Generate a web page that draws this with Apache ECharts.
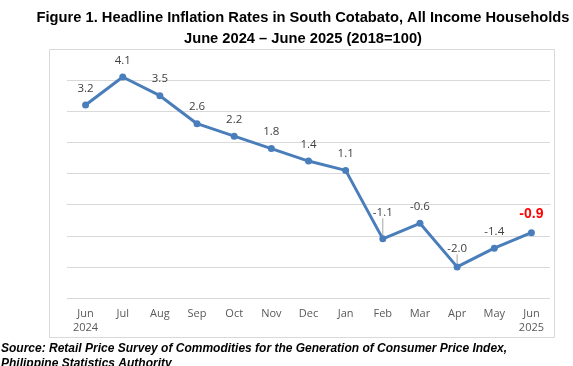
<!DOCTYPE html>
<html><head><meta charset="utf-8">
<script src="https://cdn.jsdelivr.net/npm/echarts@6/dist/echarts.min.js"></script>
<style>html,body{margin:0;padding:0;background:#fff}#c{width:573px;height:366px}</style>
</head><body><div id="c"></div>
<script>
const categories = ['Jun\n2024','Jul','Aug','Sep','Oct','Nov','Dec','Jan','Feb','Mar','Apr','May','Jun\n2025'];
const inflation = [3.2, 4.1, 3.5, 2.6, 2.2, 1.8, 1.4, 1.1, -1.1, -0.6, -2.0, -1.4, -0.9];
const titleLines = ['Figure 1. Headline Inflation Rates in South Cotabato, All Income Households', 'June 2024 \u2013 June 2025 (2018=100)'];
const sourceLines = ['Source: Retail Price Survey of Commodities for the Generation of Consumer Price Index,', 'Philippine Statistics Authority'];

const chart = echarts.init(document.getElementById('c'), null, {renderer:'canvas'});
const data = inflation.map((v, i) => {
  const d = {value: v};
  if (i === inflation.length - 1) {
    d.label = {color:'#ff0000', fontWeight:'bold', fontSize:14, fontFamily:'Liberation Sans', distance:8};
  }
  if (i === 8 || i === 10) {
    d.labelLine = {show:true};
  }
  return d;
});
chart.setOption({
  animation:false,
  graphic:[
    {type:'rect', shape:{x:49.5,y:49.5,width:505,height:288}, style:{fill:'none', stroke:'#d9d9d9', lineWidth:1}, z:-1},
    {type:'text', x:303, y:10, style:{text:titleLines[0], font:'bold 14.7px "Liberation Sans"', fill:'#000', textAlign:'center'}},
    {type:'text', x:303, y:31, style:{text:titleLines[1], font:'bold 14.7px "Liberation Sans"', fill:'#000', textAlign:'center'}},
    {type:'text', x:1, y:343, style:{text:sourceLines[0], font:'italic bold 12px "Liberation Sans"', fill:'#000'}},
    {type:'text', x:1, y:358, style:{text:sourceLines[1], font:'italic bold 12px "Liberation Sans"', fill:'#000'}}
  ],
  grid:{left:67, right:23, top:49, bottom:68, containLabel:false},
  xAxis:{type:'category', data:categories, boundaryGap:true,
    axisLine:{lineStyle:{color:'#d9d9d9', width:1}}, axisTick:{show:false},
    axisLabel:{color:'#595959', fontSize:11, fontFamily:'Open Sans', margin:9, lineHeight:14, interval:0}},
  yAxis:{type:'value', min:-3, max:5, interval:1,
    axisLabel:{show:false}, axisLine:{show:false}, axisTick:{show:false},
    splitLine:{lineStyle:{color:'#d9d9d9', width:1}}},
  series:[{type:'line', data:data, symbol:'circle', symbolSize:7,
    itemStyle:{color:'#4a7ebb'}, lineStyle:{color:'#4a7ebb', width:3},
    label:{show:true, position:'top', distance:7, color:'#404040', fontSize:11.5, fontFamily:'Open Sans',
      formatter: p => p.value.toFixed(1)},
    labelLine:{show:false, lineStyle:{color:'#a6a6a6', width:1}},
    labelLayout: p => {
      if (p.dataIndex === 8) return {dy:-10};
      if (p.dataIndex === 10) return {dy:-2};
      return {};
    }
  }]
});
</script></body></html>
